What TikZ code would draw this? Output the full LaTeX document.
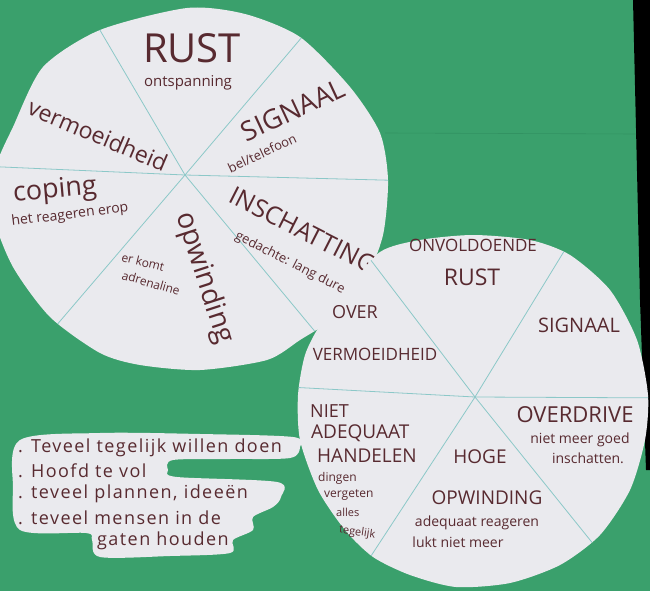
\documentclass[tikz,border=0pt]{standalone}
\usepackage{fontspec}
\setmainfont{Open Sans}
\definecolor{board}{RGB}{58,160,108}
\definecolor{paper}{RGB}{234,234,238}
\definecolor{ink}{RGB}{88,42,48}
\definecolor{chalk}{RGB}{140,200,200}
\definecolor{fold}{RGB}{50,146,98}
\newcommand\penfs[1]{\fontsize{#1}{#1}\selectfont}
\newcommand\leftdisc{plot[smooth cycle,tension=0.45] coordinates {(187,8) (245,14) (300,37) (350,87) (380,133) (388,180) (383,235) (365,280) (330,320) (300,340) (267,360) (200,370) (140,365) (100,353) (50,317) (13,267) (-6,217) (-4,167) (13,127) (43,67) (100,30)}}
\newcommand\rightdisc{plot[smooth cycle,tension=0.45] coordinates {(380,252) (420,240) (473,235) (530,240) (570,255) (610,290) (637,340) (648,395) (645,440) (630,490) (600,535) (560,565) (510,583) (456,587) (410,575) (373,557) (345,530) (318,490) (300,440) (298,395) (305,355) (320,325) (345,292)}}

\begin{document}
\begin{tikzpicture}[x=1pt,y=-1pt,
  txt/.style={text=ink,inner sep=0pt},
  lijst/.style={txt,anchor=west,font=\penfs{18}\addfontfeature{LetterSpace=8}},
  ray/.style={chalk,line width=0.8pt}]
  \clip (0,0) rectangle (650,591);
  \fill[board] (0,0) rectangle (650,591);
  \fill[black] (633,0) -- (650,0) -- (650,470) -- (646,470) -- (640,300) -- cycle;
  \draw[fold,line width=0.6pt] (385,133) -- (636,134);

  % linker schijf
  \fill[paper] \leftdisc;
  \coordinate (cL) at (185,175);
  \begin{scope}
    \clip \leftdisc;
    \foreach \e in {(57,-43),(353,-23),(420,181),(381,411),(8,382),(-20,166)}
      \draw[ray] (cL) -- \e;
  \end{scope}
  \node[txt,font=\penfs{40}] (rustL) at (192,48) {RUST};
  \node[txt,font=\penfs{15}] (ontsp) at (188,83) {ontspanning};
  \node[txt,font=\penfs{23},rotate=-23] (vermoeid) at (98,135) {vermoeidheid};
  \node[txt,font=\penfs{27},rotate=25] (signaalL) at (293,110) {SIGNAAL};
  \node[txt,font=\penfs{13},rotate=25] (bel) at (262,153) {bel/telefoon};
  \node[txt,font=\penfs{25},rotate=-27] (inschat) at (303,230) {INSCHATTING};
  \node[txt,font=\penfs{13},rotate=-27] (gedachte) at (290,263) {gedachte: lang dure};
  \node[txt,font=\penfs{27},rotate=5] (coping) at (55,191) {coping};
  \node[txt,font=\penfs{14},rotate=7] (reageren) at (70,215) {het reageren erop};
  \node[txt,font=\penfs{28},rotate=-72] (opwL) at (204,278) {opwinding};
  \node[txt,font=\penfs{12},rotate=-14] (erkomt) at (143,262) {er komt};
  \node[txt,font=\penfs{12},rotate=-16] (adren) at (151,283) {adrenaline};

  % rechter schijf
  \fill[paper] \rightdisc;
  \coordinate (cR) at (475,397);
  \begin{scope}
    \clip \rightdisc;
    \foreach \e in {(322,196),(607,181),(680,398),(648,612),(318,637),(270,386)}
      \draw[ray] (cR) -- \e;
  \end{scope}
  \node[txt,font=\penfs{17}] (onvold) at (473,245) {ONVOLDOENDE};
  \node[txt,font=\penfs{23}] (rustR) at (472,277) {RUST};
  \node[txt,font=\penfs{20}] (signaalR) at (579,325) {SIGNAAL};
  \node[txt,font=\penfs{18}] (over) at (355,312) {OVER};
  \node[txt,font=\penfs{17}] (oververm) at (375,354) {VERMOEIDHEID};
  \node[txt,font=\penfs{18},anchor=west] (niet) at (310,411) {NIET};
  \node[txt,font=\penfs{19},anchor=west] (adeq) at (311,433) {ADEQUAAT};
  \node[txt,font=\penfs{19},anchor=west] (hand) at (317,456) {HANDELEN};
  \node[txt,font=\penfs{12},anchor=west] (dingen) at (318,478) {dingen};
  \node[txt,font=\penfs{12},anchor=west] (vergeten) at (324,495) {vergeten};
  \node[txt,font=\penfs{11},anchor=west] (alles) at (336,512) {alles};
  \node[txt,font=\penfs{11},anchor=west,rotate=-8] (tegel) at (339,530) {tegelijk};
  \node[txt,font=\penfs{19}] (hoge) at (480,457) {HOGE};
  \node[txt,font=\penfs{19}] (opwR) at (487,498) {OPWINDING};
  \node[txt,font=\penfs{14}] (adeqre) at (477,523) {adequaat reageren};
  \node[txt,font=\penfs{14}] (lukt) at (458,542) {lukt niet meer};
  \node[txt,font=\penfs{22}] (overdrive) at (575,415) {OVERDRIVE};
  \node[txt,font=\penfs{14}] (nietmeer) at (580,440) {niet meer goed};
  \node[txt,font=\penfs{14}] (inschatten) at (588,458) {inschatten.};

  % lijstje linksonder
  \fill[paper] plot[smooth cycle,tension=0.5] coordinates {(20,440) (100,433) (200,434) (293,437) (300,447) (290,458) (230,459) (173,460) (168,470) (177,477) (277,482) (281,497) (273,507) (253,517) (253,530) (233,540) (230,553) (170,556) (100,557) (92,540) (86,533) (20,530) (13,487)};
  \node[lijst] (punt1) at (18,448) {. Teveel tegelijk willen doen};
  \node[lijst] (punt2) at (18,471) {. Hoofd te vol};
  \node[lijst] (punt3) at (18,494) {. teveel plannen, ideeën};
  \node[lijst] (punt4) at (18,518) {. teveel mensen in de};
  \node[lijst] (punt5) at (97,541) {gaten houden};
\end{tikzpicture}
\end{document}
